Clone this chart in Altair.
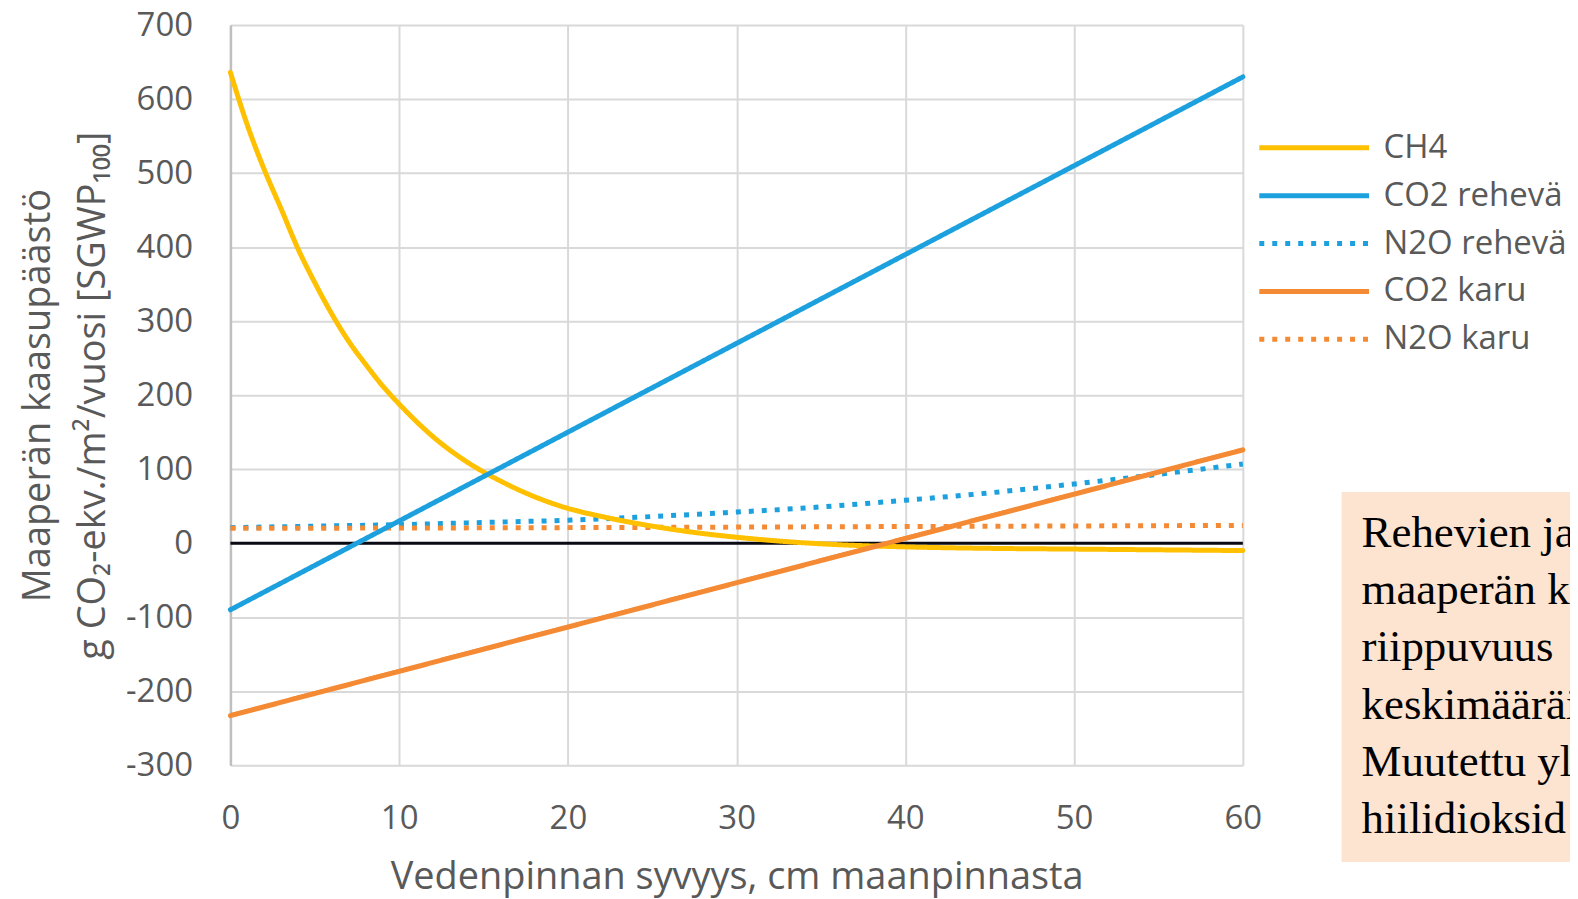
import altair as alt
import pandas as pd

# ---- data ----
SERIES = ["CH4", "CO2 rehevä", "N2O rehevä", "CO2 karu", "N2O karu"]
COLORS = ["#FFC000", "#1CA1DE", "#1CA1DE", "#F58A34", "#F58A34"]

CH4_X = [0, 1, 2, 3, 4, 5, 6, 7, 8, 9, 10, 12, 14, 16, 18, 20, 22, 25, 28, 30, 33, 36, 40, 45, 50, 55, 60]
CH4_Y = [636, 565, 505, 452, 398, 352, 310, 273, 242, 213, 188, 144, 110, 84, 63, 47, 36, 23, 13, 8, 2, -2, -5, -7, -8, -9, -10]

CO2_REHEVA_X = [0, 60]
CO2_REHEVA_Y = [-90, 630]

N2O_REHEVA_X = [0, 5, 10, 15, 20, 25, 30, 35, 40, 45, 50, 55, 60]
N2O_REHEVA_Y = [21, 23, 25, 28, 31, 36, 42, 49, 58, 68, 80, 93, 107]

CO2_KARU_X = [0, 60]
CO2_KARU_Y = [-233, 126]

N2O_KARU_X = [0, 20, 40, 60]
N2O_KARU_Y = [20, 21, 22.5, 24]

X_TICKS = [0, 10, 20, 30, 40, 50, 60]
Y_TICKS = [-300, -200, -100, 0, 100, 200, 300, 400, 500, 600, 700]

X_TITLE = "Vedenpinnan syvyys, cm maanpinnasta"
Y_TITLE = ["Maaperän kaasupäästö", "g CO₂-ekv./m²/vuosi [SGWP₁₀₀]"]

NOTE_LINES = ["Rehevien ja", "maaperän k", "riippuvuus", "keskimääräi", "Muutettu yl", "hiilidioksid"]

# ---- build table ----
rows = []
for name, xs, ys in [
    ("CH4", CH4_X, CH4_Y),
    ("CO2 rehevä", CO2_REHEVA_X, CO2_REHEVA_Y),
    ("N2O rehevä", N2O_REHEVA_X, N2O_REHEVA_Y),
    ("CO2 karu", CO2_KARU_X, CO2_KARU_Y),
    ("N2O karu", N2O_KARU_X, N2O_KARU_Y),
]:
    for x, y in zip(xs, ys):
        rows.append({"depth": x, "value": y, "series": name})
df = pd.DataFrame(rows)

FONT = "Open Sans"
GRAY = "#595959"
W, H = 1015, 742

x_enc = alt.X(
    "depth:Q",
    scale=alt.Scale(domain=[0, 60], nice=False, zero=False),
    axis=alt.Axis(
        values=X_TICKS, title=X_TITLE, titleFont=FONT, titleFontSize=38,
        titleFontWeight="normal", titleColor=GRAY, titleX=W / 2, titleY=124,
        titleAlign="center", titleBaseline="alphabetic",
        labelFont=FONT, labelFontSize=33, labelColor=GRAY, labelPadding=37,
        labelFlush=False, labelOverlap=False, ticks=False, tickSize=0,
        domain=False, grid=True, gridColor="#D9D9D9", gridWidth=2,
    ),
)
y_axis = alt.Axis(
    values=Y_TICKS, title=Y_TITLE, titleFont=FONT, titleFontSize=38,
    titleFontWeight="normal", titleColor=GRAY, titleX=-181, titleY=H / 2,
    titleAngle=270, titleAlign="center", titleBaseline="alphabetic",
    titleLineHeight=55, labelExpr="'' + datum.value",
    labelFont=FONT, labelFontSize=33, labelColor=GRAY, labelPadding=38,
    labelOverlap=False, ticks=False, tickSize=0,
    domain=True, domainColor="#BFBFBF", domainWidth=2.5,
    grid=True, gridColor="#D9D9D9", gridWidth=2,
)
y_scale = alt.Scale(domain=[-300, 700], nice=False, zero=False)

legend = alt.Legend(
    orient="none", legendX=1029, legendY=99, title=None,
    symbolType="stroke", symbolSize=12100, symbolStrokeWidth=5,
    clipHeight=48, labelOffset=12, labelFont=FONT, labelFontSize=33,
    labelColor=GRAY, labelLimit=400, padding=0, rowPadding=0,
)
color_enc = alt.Color("series:N", scale=alt.Scale(domain=SERIES, range=COLORS), legend=legend)
dash_enc = alt.StrokeDash(
    "series:N",
    scale=alt.Scale(domain=SERIES, range=[[1, 0], [1, 0], [5, 8], [1, 0], [5, 8]]),
    legend=legend,
)

base = alt.Chart(df)

zero_rule = alt.Chart(pd.DataFrame({"value": [0]})).mark_rule(
    color="#0A0A14", strokeWidth=3
).encode(y=alt.Y("value:Q", scale=y_scale, axis=y_axis))

solid = base.transform_filter(
    alt.FieldOneOfPredicate(field="series", oneOf=["CH4", "CO2 rehevä", "CO2 karu"])
).mark_line(strokeWidth=5, strokeCap="round", interpolate="monotone").encode(
    x=x_enc, y=alt.Y("value:Q", scale=y_scale, axis=y_axis),
    color=color_enc, strokeDash=dash_enc,
)

dotted = base.transform_filter(
    alt.FieldOneOfPredicate(field="series", oneOf=["N2O rehevä", "N2O karu"])
).mark_line(strokeWidth=5, strokeCap="butt", interpolate="monotone").encode(
    x=x_enc, y=alt.Y("value:Q", scale=y_scale, axis=y_axis),
    color=color_enc, strokeDash=dash_enc,
)

one = pd.DataFrame({"k": [0]})
note_box = alt.Chart(one).mark_rect(color="#FCE4D0").encode(
    x=alt.value(1114), x2=alt.value(1420), y=alt.value(468), y2=alt.value(839)
)
note_text = alt.Chart(one).mark_text(
    text=NOTE_LINES, align="left", baseline="alphabetic",
    font="Liberation Serif", fontSize=45, lineHeight=57.4, color="#000000",
).encode(x=alt.value(1134), y=alt.value(523))

chart = alt.layer(zero_rule, dotted, solid, note_box, note_text).properties(
    width=W, height=H,
    autosize=alt.AutoSizeParams(type="none"),
    padding={"left": 223, "top": 16, "right": 328, "bottom": 133},
    background="white",
).configure_view(stroke=None)

chart.save("out.html", embed_options={"renderer": "svg", "actions": False})
